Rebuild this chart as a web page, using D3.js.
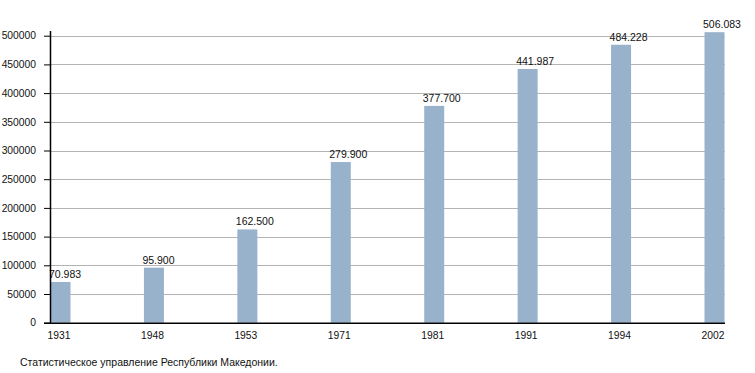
<!DOCTYPE html>
<html>
<head>
<meta charset="utf-8">
<script src="https://cdn.jsdelivr.net/npm/d3@7"></script>
<style>
  body { margin: 0; background: #fff; }
  text { font-family: "Liberation Sans", Arial, sans-serif; fill: #111; }
</style>
</head>
<body>
<svg id="chart" width="755" height="373"></svg>
<script>
// census years and population
var years = ["1931", "1948", "1953", "1971", "1981", "1991", "1994", "2002"];
var population = [70983, 95900, 162500, 279900, 377700, 441987, 484228, 506083];
var valueLabels = ["70.983", "95.900", "162.500", "279.900", "377.700", "441.987", "484.228", "506.083"];
var yTicks = [0, 50000, 100000, 150000, 200000, 250000, 300000, 350000, 400000, 450000, 500000];
var sourceNote = "Статистическое управление Республики Македонии.";

var svg = d3.select("#chart");
var left = 50, right = 725, barW = 20;

var x = d3.scalePoint()
    .domain(years)
    .range([left + 0.5, right - barW - 0.5]);

var y = d3.scaleLinear()
    .domain([0, 500000])
    .range([322.7, 35.7]);

// grid lines
svg.append("g")
    .selectAll("line")
    .data(yTicks.slice(1))
  .enter()
  .append("line")
    .attr("x1", left)
    .attr("x2", right)
    .attr("y1", function (d) { return Math.round(y(d)) + 0.5; })
    .attr("y2", function (d) { return Math.round(y(d)) + 0.5; })
    .attr("stroke", "#b4b4b4")
    .attr("stroke-width", 1);

// bars
svg.append("g")
    .selectAll("rect")
    .data(years)
  .enter()
  .append("rect")
    .attr("x", function (d) { return x(d); })
    .attr("y", function (d, i) { return y(population[i]); })
    .attr("width", barW)
    .attr("height", function (d, i) { return y(0) - y(population[i]); })
    .attr("fill", "#99b2cc");

// value labels above bars
svg.append("g")
    .selectAll("text")
    .data(years)
  .enter()
  .append("text")
    .attr("x", function (d) { return x(d) - 1.5; })
    .attr("y", function (d, i) { return y(population[i]) - 4; })
    .attr("font-size", "10.5px")
    .text(function (d, i) { return valueLabels[i]; });

// y axis
var yAxis = svg.append("g")
    .attr("transform", "translate(" + left + ",0)")
    .call(d3.axisLeft(y).tickValues(yTicks).tickSize(6).tickPadding(8).tickFormat(d3.format("d")));
yAxis.select(".domain").remove();
yAxis.selectAll("line").attr("stroke", "#000");
yAxis.selectAll("text")
    .attr("font-size", "10.3px")
    .attr("font-family", "Liberation Sans, Arial, sans-serif")
    .attr("fill", "#111");
yAxis.append("line")
    .attr("x1", 0.5).attr("x2", 0.5)
    .attr("y1", 31).attr("y2", y(0) + 1)
    .attr("stroke", "#000")
    .attr("stroke-width", 1.5);

// x axis
svg.append("line")
    .attr("x1", left - 6)
    .attr("x2", right)
    .attr("y1", y(0) + 0.5)
    .attr("y2", y(0) + 0.5)
    .attr("stroke", "#000")
    .attr("stroke-width", 1.5);

svg.append("g")
    .selectAll("text")
    .data(years)
  .enter()
  .append("text")
    .attr("x", function (d) { return x(d) + barW / 2 - 1.5; })
    .attr("y", y(0) + 16)
    .attr("text-anchor", "middle")
    .attr("font-size", "10.3px")
    .text(function (d) { return d; });

// source note
svg.append("text")
    .attr("x", 20)
    .attr("y", 366)
    .attr("font-size", "10.5px")
    .text(sourceNote);
</script>
</body>
</html>
